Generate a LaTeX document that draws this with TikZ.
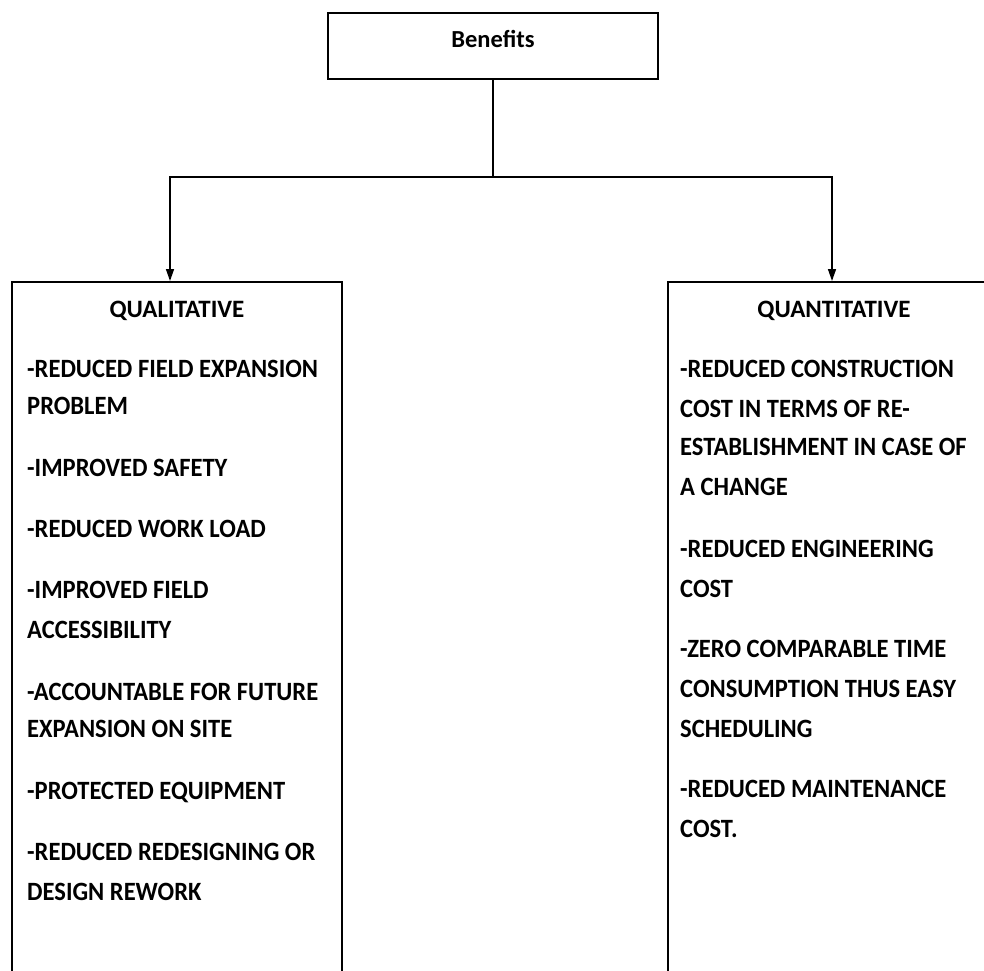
\documentclass[tikz,border=0pt]{standalone}
\usepackage{fontspec}
\setmainfont{Carlito}
\newfontfamily\itemfont[FakeStretch=0.93]{Carlito}
\usetikzlibrary{arrows.meta}
\tikzset{
  box/.style={draw, line width=1.5pt, inner sep=0pt},
  hdr/.style={font=\bfseries\fontsize{25}{30}\selectfont, anchor=base, inner sep=0pt},
  ln/.style={font=\itemfont\bfseries\fontsize{26.4}{32}\selectfont, anchor=base west, inner sep=0pt},
  arr/.style={line width=1.5pt, -{Triangle[length=12pt,width=8pt]}}
}
\begin{document}
\begin{tikzpicture}[x=1pt,y=-1pt]
\useasboundingbox (0,0) rectangle (984,970);
% boxes
\node[box, minimum width=330pt, minimum height=66pt] (ben) at (493,46) {};
\node[hdr, font=\bfseries\fontsize{24.5}{30}\selectfont] (bentxt) at (493,47) {Benefits};
\node[box, minimum width=330pt, minimum height=760pt, anchor=north west] (qual) at (11,281) {};
\node[box, minimum width=334pt, minimum height=760pt, anchor=north west] (quan) at (667,281) {};
% connectors
\coordinate (jl) at (170,177);
\coordinate (jr) at (832,177);
\draw[arr] (ben.south) |- (jl) -- (jl |- qual.north);
\draw[arr] (ben.south) |- (jr) -- (jr |- quan.north);
% headers
\node[hdr] (qh) at (177,317) {QUALITATIVE};
\node[hdr] (nh) at (834,317) {QUANTITATIVE};
% left items
\node[ln] (l1) at (27,377) {-REDUCED FIELD EXPANSION};
\node[ln] (l2) at (27,414) {PROBLEM};
\node[ln] (l3) at (27,476) {-IMPROVED SAFETY};
\node[ln] (l4) at (27,537) {-REDUCED WORK LOAD};
\node[ln] (l5) at (27,598) {-IMPROVED FIELD};
\node[ln] (l6) at (27,638) {ACCESSIBILITY};
\node[ln] (l7) at (27,700) {-ACCOUNTABLE FOR FUTURE};
\node[ln] (l8) at (27,737) {EXPANSION ON SITE};
\node[ln] (l9) at (27,799) {-PROTECTED EQUIPMENT};
\node[ln] (l10) at (27,860) {-REDUCED REDESIGNING OR};
\node[ln] (l11) at (27,900) {DESIGN REWORK};
% right items
\node[ln] (r1) at (680,377) {-REDUCED CONSTRUCTION};
\node[ln] (r2) at (680,417) {COST IN TERMS OF RE-};
\node[ln] (r3) at (680,455) {ESTABLISHMENT IN CASE OF};
\node[ln] (r4) at (680,495) {A CHANGE};
\node[ln] (r5) at (680,557) {-REDUCED ENGINEERING};
\node[ln] (r6) at (680,597) {COST};
\node[ln] (r7) at (680,657) {-ZERO COMPARABLE TIME};
\node[ln] (r8) at (680,697) {CONSUMPTION THUS EASY};
\node[ln] (r9) at (680,737) {SCHEDULING};
\node[ln] (r10) at (680,797) {-REDUCED MAINTENANCE};
\node[ln] (r11) at (680,837) {COST.};
\end{tikzpicture}
\end{document}
